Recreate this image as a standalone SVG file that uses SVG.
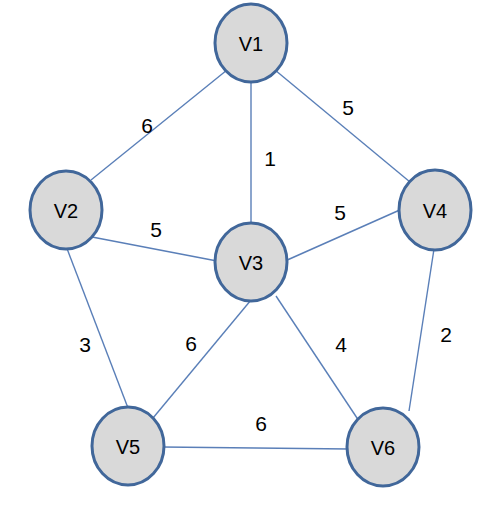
<svg xmlns="http://www.w3.org/2000/svg" width="491" height="507" viewBox="0 0 491 507">
<style>
.edge{stroke:#5a7fb8;stroke-width:1.4;fill:none}
.node ellipse{fill:#d9d9d9;stroke:#41679a;stroke-width:3}
.node text{font-family:"Liberation Sans",Arial,sans-serif;font-size:20px;fill:#000;text-anchor:middle;dominant-baseline:central}
.w{font-family:"Liberation Sans",Arial,sans-serif;font-size:21px;fill:#000;text-anchor:middle;dominant-baseline:central}
</style>
<rect width="491" height="507" fill="#fff"/>
<g id="connectors">
<line class="edge" x1="227" y1="70" x2="91" y2="180"/>
<line class="edge" x1="251" y1="80" x2="251" y2="225"/>
<line class="edge" x1="275" y1="70" x2="410" y2="182"/>
<line class="edge" x1="92" y1="237" x2="217" y2="261"/>
<line class="edge" x1="66" y1="246" x2="128" y2="408"/>
<line class="edge" x1="285" y1="261" x2="402" y2="209"/>
<line class="edge" x1="251" y1="300" x2="153" y2="418"/>
<line class="edge" x1="276" y1="296" x2="359" y2="421"/>
<line class="edge" x1="434" y1="249" x2="409" y2="411"/>
<line class="edge" x1="162" y1="447" x2="349" y2="449"/>
</g>
<g id="weights">
<text class="w" x="147" y="125">6</text>
<text class="w" x="348" y="107">5</text>
<text class="w" x="270" y="158">1</text>
<text class="w" x="156" y="229">5</text>
<text class="w" x="340" y="212">5</text>
<text class="w" x="85" y="344">3</text>
<text class="w" x="191" y="343">6</text>
<text class="w" x="341" y="344">4</text>
<text class="w" x="446" y="334">2</text>
<text class="w" x="261" y="423">6</text>
</g>
<g id="V1" class="node"><ellipse cx="251" cy="43" rx="36" ry="39"/><text x="251" y="44">V1</text></g>
<g id="V2" class="node"><ellipse cx="66" cy="210" rx="36" ry="39"/><text x="66" y="211">V2</text></g>
<g id="V3" class="node"><ellipse cx="251" cy="262" rx="36" ry="39"/><text x="251" y="263">V3</text></g>
<g id="V4" class="node"><ellipse cx="435" cy="210" rx="36" ry="40"/><text x="435" y="211">V4</text></g>
<g id="V5" class="node"><ellipse cx="128" cy="446" rx="36" ry="39"/><text x="128" y="447">V5</text></g>
<g id="V6" class="node"><ellipse cx="383" cy="447" rx="36" ry="39"/><text x="383" y="448">V6</text></g>
</svg>
